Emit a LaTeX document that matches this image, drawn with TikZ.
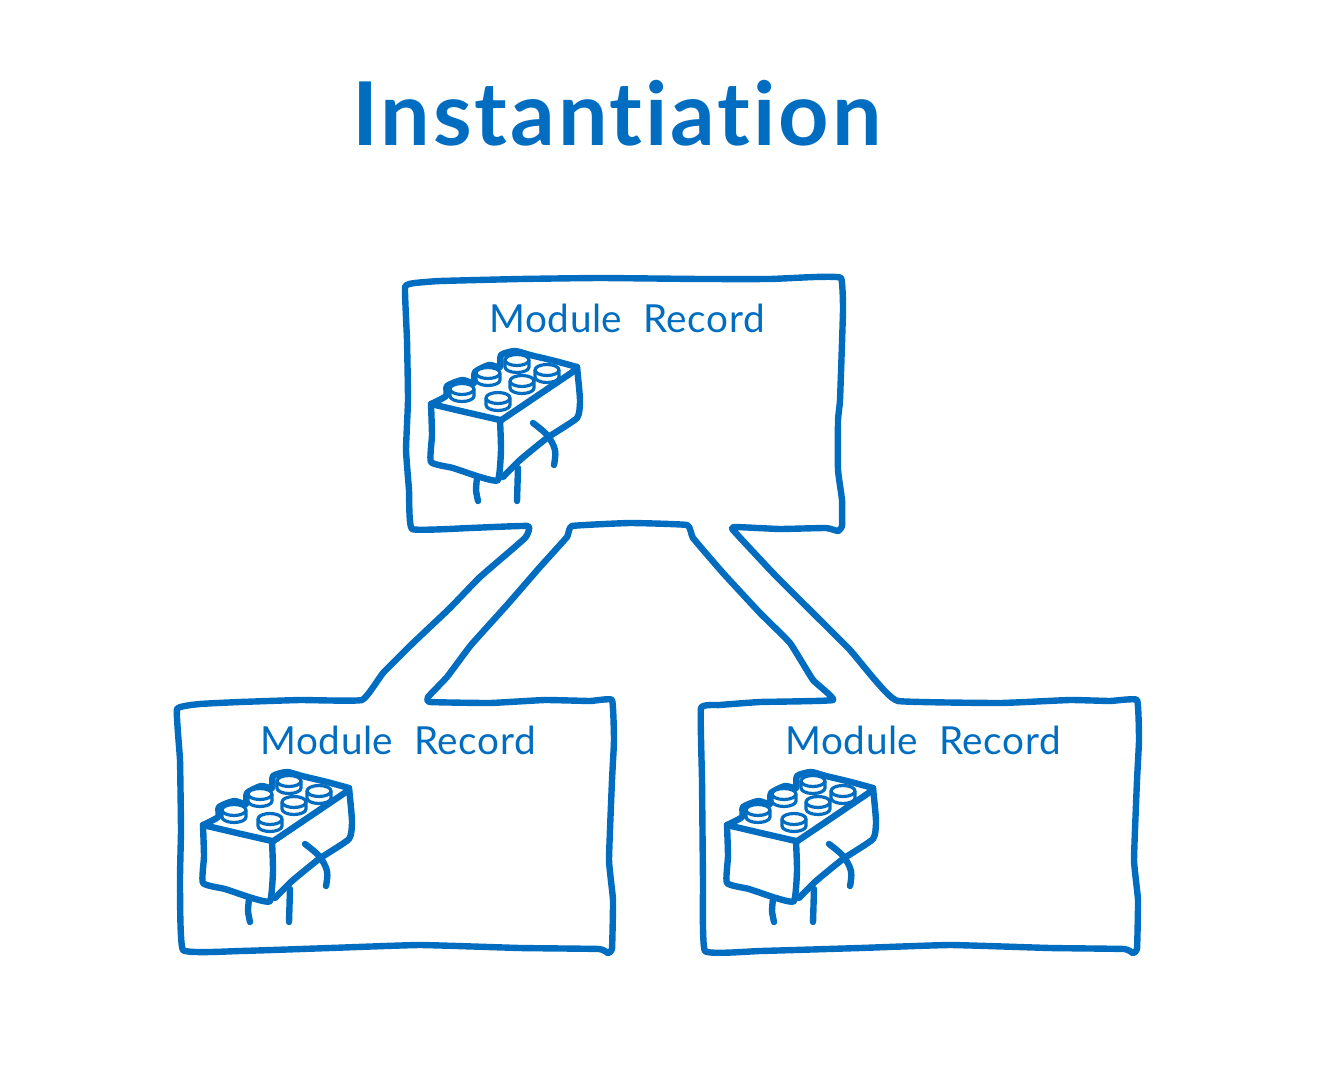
\documentclass[tikz,border=0pt]{standalone}
\usepackage{fontspec}
\setmainfont{Lato}
\definecolor{sketchblue}{HTML}{016DC0}
\newfontfamily\titlefont[Ligatures=NoCommon,LetterSpace=3.3]{Lato Bold}
\newfontfamily\recordfont[Ligatures=NoCommon,LetterSpace=1.5,WordSpace=2]{Lato}
\tikzset{
    sketch/.style={draw=sketchblue,line width=4.8pt,line cap=round,line join=round},
    thinsketch/.style={draw=sketchblue,line width=2.4pt,line cap=round,line join=round},
    recordlabel/.style={text=sketchblue,font=\recordfont\fontsize{29}{34}\selectfont},
    studs/.pic={
        \foreach \sx/\sy in {517/360,488/373,547/370,462/389,522/381,498/398} {
            \path [thinsketch,fill=white] (\sx-12,\sy) -- (\sx-12,\sy+7) arc [start angle=180,end angle=0,x radius=12,y radius=5.5] -- (\sx+12,\sy) -- cycle;
            \path [thinsketch,fill=white] (\sx,\sy) ellipse [x radius=12,y radius=5.5];
        }
    },
    brick/.pic={
        % back of the top face, then the body
        \draw [sketch] plot [smooth,tension=.4] coordinates {(431,404) (446,396) (447,386) (462,380) (474,383)
            (475,372) (489,365) (500,367) (501,355) (515,351) (530,355) (555,361) (577,367)};
        \pic {studs};
        \draw [sketch] plot [smooth,tension=.3] coordinates {(431,404) (432,435) (431,462) (453,468) (480,477) (498,480) (501,450) (500,420)};
        \draw [sketch] plot [smooth,tension=.4] coordinates {(431,404) (465,412) (500,420)};
        \draw [sketch] plot [smooth,tension=.4] coordinates {(500,421) (537,396) (577,369)};
        \draw [sketch] plot [smooth,tension=.3] coordinates {(577,367) (580,400) (577,418) (547,438) (520,460) (503,477)};
        \draw [sketch] plot [smooth,tension=.4] coordinates {(477,478) (476,490) (478,501)};
        \draw [sketch] plot [smooth,tension=.4] coordinates {(518,468) (517,501)};
        \draw [sketch] plot [smooth,tension=.6] coordinates {(533,423) (547,435) (555,450) (554,465)};
    }
}
\begin{document}
\begin{tikzpicture}[x=0.75pt,y=-0.75pt]
    \useasboundingbox (0,0) rectangle (1326,1080);

    \node [text=sketchblue,font=\titlefont\fontsize{66}{80}\selectfont] (title) at (617,113) {Instantiation};

    % the three boxes and their two arms are one outline
    \draw [sketch] plot [smooth cycle,tension=.2] coordinates {(528,526) (470,528) (412,529) (409,490) (406,450) (408,400) (407,340) (405,287)
        (415,283) (440,281) (520,279) (600,278) (700,279) (770,279) (815,277) (841,278)
        (843,310) (840,400) (838,420) (838,470) (842,500) (842,526) (838,531) (826,528)
        (780,529) (735,527) (733,530) (773,573) (817,617) (850,650) (875,680) (898,701)
        (1000,703) (1070,700) (1110,701) (1137,700) (1139,740) (1137,780) (1134,860) (1138,900)
        (1137,949) (1133,953) (1124,949) (1050,948) (950,945) (860,948) (760,951) (705,951)
        (703,880) (702,780) (701,708) (720,705) (760,702) (833,700) (813,680) (790,643)
        (760,613) (723,573) (693,538) (687,525) (630,523) (572,526) (567,537) (540,567)
        (507,605) (471,645) (447,677) (428,697) (430,702) (490,703) (545,700) (590,701)
        (612,700) (614,740) (612,780) (609,860) (613,900) (612,949) (608,953) (599,949) (520,948)
        (420,945) (330,948) (240,951) (183,950) (180,880) (181,830) (180,760) (177,709)
        (200,704) (240,702) (300,700) (362,700) (383,673) (413,643) (450,608) (480,577)
        (525,538)};

    \node [recordlabel] (topRecord)   at (627,318) {Module Record};
    \node [recordlabel] (leftRecord)  at (398,740) {Module Record};
    \node [recordlabel] (rightRecord) at (923,740) {Module Record};

    \pic {brick};
    \pic [shift={(-228,421)}] {brick};
    \pic [shift={(296,421)}] {brick};
\end{tikzpicture}
\end{document}
